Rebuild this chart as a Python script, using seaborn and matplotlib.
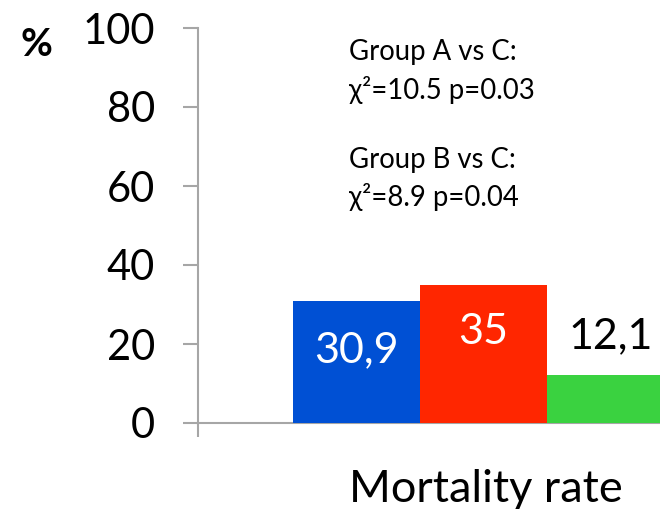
import matplotlib
matplotlib.use("Agg")
import matplotlib.pyplot as plt
import seaborn as sns
import pandas as pd

groups = ["A", "B", "C"]
mortality = [30.9, 35.0, 12.1]
value_labels = ["30,9", "35", "12,1"]
bar_colors = ["#0050D4", "#FF2600", "#3AD240"]
label_colors = ["white", "white", "black"]
y_ticks = [0, 20, 40, 60, 80, 100]
stats_lines = ["Group A vs C:", "χ²=10.5 p=0.03", "Group B vs C:", "χ²=8.9 p=0.04"]

sns.set_style("white")
plt.rcParams["font.family"] = ["Lato", "DejaVu Sans"]
plt.rcParams["text.color"] = "black"
plt.rcParams["ytick.labelcolor"] = "black"

df = pd.DataFrame({"group": groups, "mortality": mortality})

fig = plt.figure(figsize=(6.6, 5.09), dpi=100)
ax = fig.add_axes([198 / 660, (509 - 423) / 509, 1 - 198 / 660, (423 - 28) / 509])

sns.barplot(data=df, x="group", y="mortality", hue="group", palette=bar_colors,
            width=1.0, legend=False, ax=ax, saturation=1, linewidth=0)

x_left = -1.248
ax.set_xlim(x_left, 2.39)
ax.set_ylim(0, 100)

for spine in ["top", "right"]:
    ax.spines[spine].set_visible(False)
for spine in ["left", "bottom"]:
    ax.spines[spine].set_color("#A6A6A6")
    ax.spines[spine].set_linewidth(1.5)
    ax.spines[spine].set_zorder(0.5)

ax.set_yticks(y_ticks)
ax.set_yticklabels([str(t) for t in y_ticks], fontsize=30, color="black")
ax.tick_params(axis="y", direction="out", length=11, width=1.5, color="#A6A6A6",
               pad=20, left=True)
ax.set_xticks([x_left])
ax.set_xticklabels([""])
ax.tick_params(axis="x", direction="out", length=10, width=1.5, color="#A6A6A6", bottom=True)
ax.set_xlabel("")
ax.set_ylabel("")

# values on the bars
label_y = [18.4, 23.0, 22.0]
for i, (val, txt, col) in enumerate(zip(mortality, value_labels, label_colors)):
    ax.text(i, label_y[i], txt, ha="center", va="center", fontsize=31, color=col)

fig.text(36 / 660, 1 - 45 / 509, "%", fontsize=28, fontweight="bold",
         ha="center", va="center")

stat_y = [52, 90, 160, 197]
for line, yy in zip(stats_lines, stat_y):
    fig.text(349 / 660, 1 - yy / 509, line, fontsize=19.8, ha="left", va="center")

fig.text(486 / 660, 1 - 489 / 509, "Mortality rate", fontsize=32.5, ha="center", va="center")

fig.savefig("out.png", dpi=100)
